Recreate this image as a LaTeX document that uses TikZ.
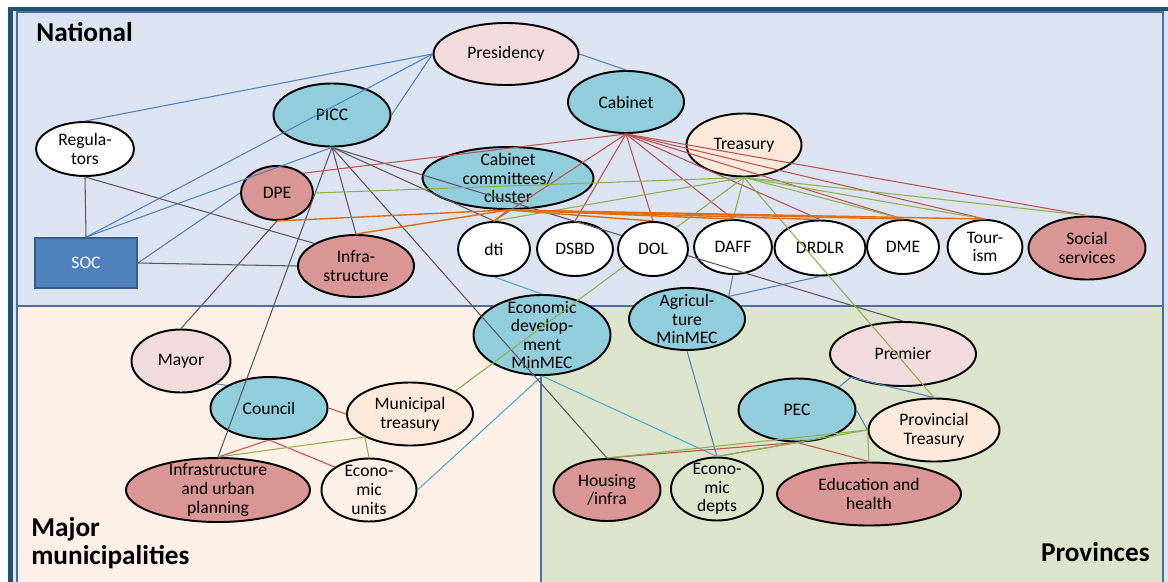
\documentclass[tikz,border=0pt]{standalone}
\usepackage{fontspec}
\setmainfont{Carlito}
\usetikzlibrary{shapes}

\definecolor{natbg}{HTML}{DBE4F0}
\definecolor{majbg}{HTML}{FDF0E7}
\definecolor{provbg}{HTML}{DCE4CC}
\definecolor{framecol}{HTML}{1F5573}
\definecolor{regioncol}{HTML}{4A6FA6}
\definecolor{cyanfill}{HTML}{92CDDC}
\definecolor{pinkfill}{HTML}{F2DCDB}
\definecolor{peachfill}{HTML}{FDE9D9}
\definecolor{redfill}{HTML}{D99694}
\definecolor{socfill}{HTML}{4F81BD}
\definecolor{socdraw}{HTML}{385D8A}
\definecolor{lblue}{HTML}{4F81BD}
\definecolor{lteal}{HTML}{4BACC6}
\definecolor{lgrey}{HTML}{595959}
\definecolor{lred}{HTML}{C0504D}
\definecolor{lgreen}{HTML}{8DB04A}
\definecolor{lorange}{HTML}{E46C0A}

\pgfdeclarelayer{background}
\pgfdeclarelayer{foreground}
\pgfsetlayers{background,main,foreground}

\tikzstyle{base_el}=[ellipse, draw=black, line width=1.1pt, inner sep=-10pt, align=center, font=\fontsize{10}{10.6}\selectfont]
\tikzstyle{cyan_el}=[base_el, fill=cyanfill]
\tikzstyle{pink_el}=[base_el, fill=pinkfill]
\tikzstyle{peach_el}=[base_el, fill=peachfill]
\tikzstyle{red_el}=[base_el, fill=redfill]
\tikzstyle{white_el}=[base_el, fill=white]
\tikzstyle{open_el}=[base_el]
\tikzstyle{soc_block}=[rectangle, fill=socfill, draw=socdraw, line width=1pt, minimum width=2.04cm, minimum height=1cm, text=white, font=\fontsize{10}{10.6}\selectfont]
\tikzstyle{region}=[draw=regioncol, line width=1.1pt]
\tikzstyle{heading}=[inner sep=0pt, align=left, font=\fontsize{15.5}{16}\selectfont\bfseries]
\tikzstyle{blue_line}=[draw=lblue, line width=0.6pt]
\tikzstyle{teal_line}=[draw=lteal, line width=0.6pt]
\tikzstyle{grey_line}=[draw=lgrey, line width=0.6pt]
\tikzstyle{red_line}=[draw=lred, line width=0.6pt]
\tikzstyle{green_line}=[draw=lgreen, line width=0.6pt]
\tikzstyle{orange_line}=[draw=lorange, line width=0.8pt]

\begin{document}
\begin{tikzpicture}
\useasboundingbox (0,0) rectangle (23.36,11.62);

% frame and the three areas
\begin{pgfonlayer}{background}
\clip (0,0) rectangle (23.36,11.62);
\fill[natbg] (0.21,-1) rectangle (24,11.44);
\draw[framecol, line width=2.6pt] (0.21,-1) rectangle (24,11.44);
\draw[region, fill=natbg] (0.34,5.50) rectangle (23.26,11.38);
\draw[region, fill=majbg] (0.34,-1) rectangle (10.82,5.50);
\draw[region, fill=provbg] (10.82,-1) rectangle (23.26,5.50);
\end{pgfonlayer}

\node[heading, anchor=base west] (national) at (0.72,10.80) {National};
\node[heading, anchor=south west] (major) at (0.62,0.24) {Major\\municipalities};
\node[heading, anchor=base east] (provinces) at (23.00,0.40) {Provinces};

% national
\node[pink_el, minimum width=2.90cm, minimum height=1.24cm] (presidency) at (10.12,10.54) {Presidency};
\node[cyan_el, minimum width=2.32cm, minimum height=1.24cm] (cabinet) at (12.52,9.58) {Cabinet};
\node[cyan_el, minimum width=2.34cm, minimum height=1.26cm] (picc) at (6.64,9.32) {PICC};
\node[peach_el, minimum width=2.30cm, minimum height=1.26cm] (treasury) at (14.88,8.72) {Treasury};
\node[white_el, minimum width=1.96cm, minimum height=1.08cm] (regulators) at (1.70,8.64) {Regula-\\tors};
\node[red_el, minimum width=1.44cm, minimum height=1.08cm] (dpe) at (5.54,7.76) {DPE};
\node[cyan_el, minimum width=3.42cm, minimum height=1.24cm] (committees) at (10.16,8.06) {Cabinet\\committees/\\cluster};
\node[soc_block] (soc) at (1.72,6.36) {SOC};
\node[red_el, minimum width=2.32cm, minimum height=1.24cm] (infra) at (7.12,6.30) {Infra-\\structure};
\node[white_el, minimum width=1.44cm, minimum height=1.08cm] (dti) at (9.88,6.64) {dti};
\node[white_el, minimum width=1.52cm, minimum height=1.08cm] (dsbd) at (11.50,6.64) {DSBD};
\begin{pgfonlayer}{foreground}
\node[white_el, minimum width=1.40cm, minimum height=1.08cm] (dol) at (13.06,6.64) {DOL};
\end{pgfonlayer}
\node[white_el, minimum width=1.56cm, minimum height=1.08cm] (daff) at (14.66,6.68) {DAFF};
\node[white_el, minimum width=1.82cm, minimum height=1.10cm] (drdlr) at (16.40,6.66) {DRDLR};
\node[white_el, minimum width=1.44cm, minimum height=1.08cm] (dme) at (18.06,6.68) {DME};
\node[white_el, minimum width=1.50cm, minimum height=1.08cm] (tourism) at (19.70,6.68) {Tour-\\ism};
\node[red_el, minimum width=2.34cm, minimum height=1.26cm] (social) at (21.74,6.66) {Social\\services};

% minmecs
\node[cyan_el, minimum width=2.74cm, minimum height=1.60cm] (ecodev) at (10.84,4.92) {Economic\\develop-\\ment\\MinMEC};
\node[cyan_el, minimum width=2.32cm, minimum height=1.24cm] (agric) at (13.74,5.24) {Agricul-\\ture\\MinMEC};

% municipalities
\node[pink_el, minimum width=1.98cm, minimum height=1.26cm] (mayor) at (3.62,4.40) {Mayor};
\node[cyan_el, minimum width=2.34cm, minimum height=1.24cm] (council) at (5.38,3.46) {Council};
\node[peach_el, minimum width=2.52cm, minimum height=1.26cm] (munitreasury) at (8.20,3.34) {Municipal\\treasury};
\node[red_el, minimum width=3.68cm, minimum height=1.28cm] (iup) at (4.36,1.82) {Infrastructure\\and urban\\planning};
\node[open_el, minimum width=1.90cm, minimum height=1.26cm] (ecounits) at (7.38,1.82) {Econo-\\mic\\units};

% provinces
\node[pink_el, minimum width=2.92cm, minimum height=1.28cm] (premier) at (18.06,4.54) {Premier};
\node[cyan_el, minimum width=2.34cm, minimum height=1.26cm] (pec) at (15.94,3.42) {PEC};
\node[peach_el, minimum width=2.62cm, minimum height=1.26cm] (provtreasury) at (18.68,3.02) {Provincial\\Treasury};
\node[red_el, minimum width=2.14cm, minimum height=1.24cm] (housing) at (12.14,1.82) {Housing\\/infra};
\node[open_el, minimum width=1.84cm, minimum height=1.26cm] (ecodepts) at (14.34,1.84) {Econo-\\mic\\depts};
\node[red_el, minimum width=3.68cm, minimum height=1.26cm] (education) at (17.38,1.74) {Education and\\health};

% blue links
\draw[blue_line] (presidency.west) -- (regulators.north);
\draw[blue_line] (presidency.west) -- (picc.east);
\draw[blue_line] (presidency.west) -- (soc.north);
\draw[blue_line] (presidency.east) -- (cabinet.north);
\draw[blue_line] (picc.south) -- (soc.north);
\draw[blue_line] (soc.east) -- (dpe.west);
\draw[blue_line] (mayor.south east) -- (council.north west);
\draw[blue_line] (daff.south) -- (agric.north east);
\draw[blue_line] (drdlr.south) -- (agric.north east);
\draw[blue_line] (agric.south) -- (ecodepts.north);
\draw[blue_line] (premier.south west) -- (pec.north east);
\draw[blue_line] (premier.south west) -- (provtreasury.north);
\draw[blue_line] (pec.east) -- (provtreasury.west);

\draw[teal_line] (dti.south) -- (ecodev.north);
\draw[teal_line] (ecodev.south) -- (ecounits.east);
\draw[teal_line] (ecodev.south) -- (ecodepts.north);

% grey links
\draw[grey_line] (regulators.south) -- (soc.north);
\draw[grey_line] (regulators.south) -- (infra.north west);
\draw[grey_line] (soc.east) -- (infra.west);
\draw[grey_line] (picc.south) -- (infra.north);
\draw[grey_line] (picc.south) -- (iup.north);
\draw[grey_line] (picc.south) -- (housing.north);
\draw[grey_line] (picc.south) -- (dti.north);
\draw[grey_line] (picc.south) -- (premier.north);
\draw[grey_line] (dpe.south) -- (mayor.north);

% cabinet links
\draw[red_line] (cabinet.south) -- (dpe.north east);
\draw[red_line] (cabinet.south) -- (dti.north);
\draw[red_line] (cabinet.south) -- (dsbd.north);
\draw[red_line] (cabinet.south) -- (dol.north);
\draw[red_line] (cabinet.south) -- (daff.north);
\draw[red_line] (cabinet.south) -- (drdlr.north);
\draw[red_line] (cabinet.south) -- (dme.north);
\draw[red_line] (cabinet.south) -- (tourism.north);
\draw[red_line] (cabinet.south) -- (social.north);
\draw[red_line] (council.south) -- (iup.north);
\draw[red_line] (council.south) -- (ecounits.north west);
\draw[red_line] (council.east) -- (munitreasury.west);
\draw[red_line] (pec.south) -- (housing.north);
\draw[red_line] (pec.south) -- (ecodepts.north);
\draw[red_line] (pec.south) -- (education.north);

% treasury links
\draw[green_line] (treasury.south) -- (dpe.east);
\draw[green_line] (treasury.south) -- (dti.north);
\draw[green_line] (treasury.south) -- (daff.north);
\draw[green_line] (treasury.south) -- (dme.north);
\draw[green_line] (treasury.south) -- (tourism.north);
\draw[green_line] (treasury.south) -- (social.north);
\draw[green_line] (treasury.south) -- (provtreasury.north);
\draw[green_line] (treasury.south) -- (munitreasury.north east);
\draw[green_line] (munitreasury.south west) -- (iup.north);
\draw[green_line] (munitreasury.south west) -- (ecounits.north);
\draw[green_line] (provtreasury.west) -- (housing.north);
\draw[green_line] (provtreasury.west) -- (ecodepts.north);
\draw[green_line] (provtreasury.west) -- (education.north);

% committee links
\draw[orange_line] (committees.south) -- (dpe.south);
\draw[orange_line] (committees.south) -- (infra.north);
\draw[orange_line] (committees.south) -- (dti.north);
\draw[orange_line] (committees.south) -- (dol.north);
\draw[orange_line] (committees.south) -- (daff.north);
\draw[orange_line] (committees.south) -- (drdlr.north);
\draw[orange_line] (committees.south) -- (dme.north);
\draw[orange_line] (committees.south) -- (tourism.north);
\end{tikzpicture}
\end{document}
